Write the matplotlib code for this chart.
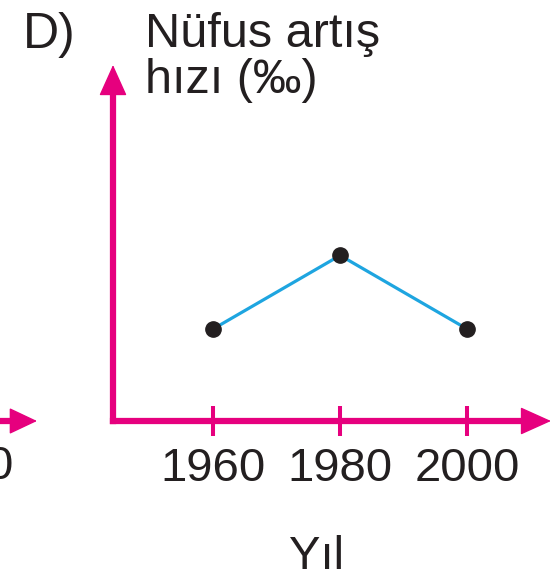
import matplotlib.pyplot as plt

# data
years = [1960, 1980, 2000]
rates = [10, 18, 10]
tick_labels = ["1960", "1980", "2000"]

PINK = "#E6007E"
BLUE = "#1EA5E0"

plt.rcParams['font.family'] = ['Liberation Sans', 'DejaVu Sans']

W, H = 551, 578
fig = plt.figure(figsize=(W / 100, H / 100), dpi=100)

# axes box: corner at (113, 421) px, top at 65 px, right at 551 px
ax = fig.add_axes([113 / W, (H - 421) / H, (W - 113) / W, (421 - 65) / H])
ax.set_xlim(1944.25, 2013.2)
ax.set_ylim(0, 38.7)

ax.plot(years, rates, color=BLUE, lw=2.3, zorder=3, clip_on=False)
ax.plot(years, rates, 'o', color='#231F20', ms=11, zorder=4, clip_on=False)

# axes as thick pink arrows
for side in ['top', 'right']:
    ax.spines[side].set_visible(False)
for side in ['left', 'bottom']:
    ax.spines[side].set_color(PINK)
    ax.spines[side].set_linewidth(4.5)
    ax.spines[side].set_capstyle('projecting')
ax.spines['left'].set_bounds(0, 35.5)
ax.spines['bottom'].set_bounds(1944.25, 2009.5)

head = dict(arrowstyle='-|>,head_length=2.0,head_width=0.9', mutation_scale=10,
            color=PINK, lw=1, shrinkA=0, shrinkB=0)
ax.annotate('', xy=(1, 0), xytext=(0.9, 0), xycoords='axes fraction', arrowprops=head)
ax.annotate('', xy=(0, 1), xytext=(0, 0.9), xycoords='axes fraction', arrowprops=head)

ax.set_yticks([])
ax.set_xticks(years)
ax.set_xticklabels(tick_labels)
ax.tick_params(axis='x', direction='inout', length=21, width=2.9, color=PINK,
               labelsize=34, pad=8, labelcolor='#231F20')

ax.set_xlabel("Yıl", fontsize=34, color='#231F20')
ax.xaxis.set_label_coords((317 - 113) / (W - 113), -(535 - 421) / (421 - 65), transform=ax.transAxes)
ax.xaxis.label.set_va('top')

fig.text(145 / W, 1 - 12 / H, "Nüfus artış\nhızı (‰)", fontsize=35, va='top', ha='left',
         color='#231F20', linespacing=1.02)
fig.text(23 / W, 1 - 12 / H, "D)", fontsize=36, va='top', ha='left', color='#231F20')

# fragment of the neighbouring chart at the left edge
fig.text(12 / W, 1 - 445 / H, "0", fontsize=34, va='top', ha='right', color='#231F20')
ax.annotate('', xy=(12 / W, 1 - 421 / H), xytext=(-0.02, 1 - 421 / H), xycoords='figure fraction',
            arrowprops=dict(arrowstyle='-', color=PINK, lw=4.5, shrinkA=0, shrinkB=0))
ax.annotate('', xy=(37 / W, 1 - 421 / H), xytext=(0, 1 - 421 / H), xycoords='figure fraction',
            arrowprops=dict(arrowstyle='-|>,head_length=1.8,head_width=0.85', mutation_scale=10,
                            color=PINK, lw=1, shrinkA=0, shrinkB=0))

fig.savefig("out.png", dpi=100)
